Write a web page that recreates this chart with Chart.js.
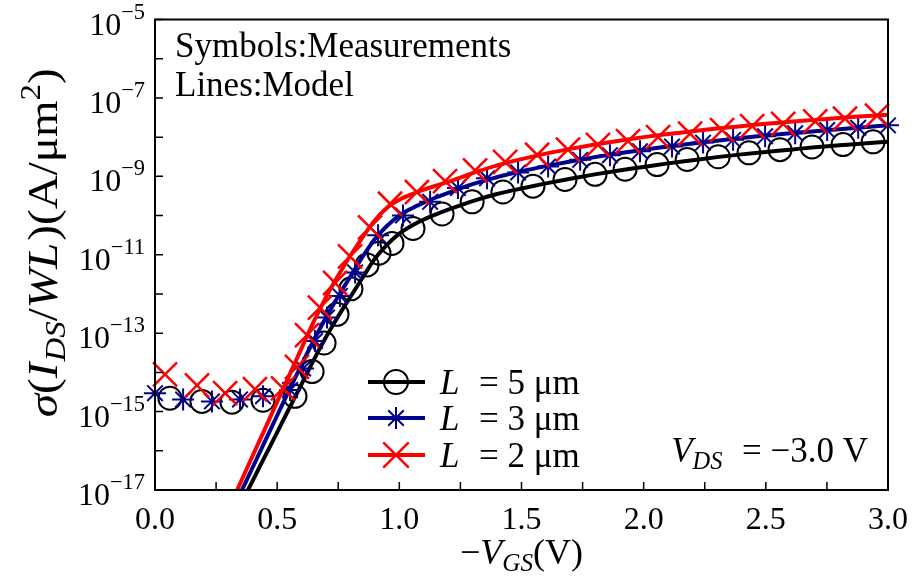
<!DOCTYPE html>
<html>
<head>
<meta charset="utf-8">
<title>sigma(IDS/WL) vs -VGS</title>
<script src="https://cdn.jsdelivr.net/npm/chart.js@4.4.1/dist/chart.umd.min.js"></script>
<style>
  html, body { margin: 0; padding: 0; background: #fff; }
  canvas { display: block; }
</style>
</head>
<body>
<canvas id="chart" width="912" height="580"></canvas>
<script>
// -V_GS (V) and log10 of sigma(I_DS/WL) in A/um^2

// measurements, L = 5 um (circles)
const vMeas5 = [0.061, 0.192, 0.315, 0.442, 0.573, 0.643, 0.692, 0.745, 0.802, 0.868, 0.917, 0.970, 1.056, 1.175, 1.298, 1.424, 1.547, 1.678, 1.801, 1.924, 2.055, 2.178, 2.305, 2.431, 2.558, 2.689, 2.816, 2.939];
const eMeas5 = [-14.66, -14.74, -14.76, -14.71, -14.61, -13.98, -13.25, -12.52, -11.87, -11.26, -10.96, -10.71, -10.33, -9.96, -9.65, -9.40, -9.25, -9.08, -8.95, -8.82, -8.70, -8.57, -8.50, -8.40, -8.32, -8.25, -8.19, -8.12];

// measurements, L = 3 um (stars)
const vMeas3 = [0.0, 0.115, 0.233, 0.348, 0.442, 0.553, 0.606, 0.655, 0.704, 0.757, 0.819, 0.913, 1.015, 1.126, 1.240, 1.359, 1.486, 1.609, 1.740, 1.862, 1.985, 2.116, 2.243, 2.366, 2.497, 2.620, 2.751, 2.878, 3.0];
const eMeas3 = [-14.53, -14.69, -14.74, -14.69, -14.61, -14.45, -13.9, -13.2, -12.6, -12.05, -11.45, -10.5, -10.0, -9.65, -9.3, -9.05, -8.9, -8.75, -8.58, -8.46, -8.36, -8.24, -8.14, -8.07, -7.98, -7.9, -7.82, -7.76, -7.7];

// measurements, L = 2 um (crosses)
const vMeas2 = [0.041, 0.172, 0.287, 0.409, 0.524, 0.581, 0.622, 0.675, 0.737, 0.798, 0.880, 0.962, 1.072, 1.187, 1.310, 1.433, 1.564, 1.690, 1.813, 1.936, 2.059, 2.190, 2.321, 2.444, 2.571, 2.702, 2.824, 2.955];
const eMeas2 = [-14.05, -14.33, -14.53, -14.43, -14.41, -13.86, -13.05, -12.35, -11.72, -11.04, -10.3, -9.7, -9.40, -9.12, -8.85, -8.63, -8.45, -8.32, -8.2, -8.1, -8.0, -7.91, -7.82, -7.72, -7.66, -7.6, -7.53, -7.45];

// model curves
const vModel = [0.30, 0.35, 0.40, 0.45, 0.50, 0.55, 0.60, 0.65, 0.70, 0.75, 0.80, 0.85, 0.90, 0.95, 1.00, 1.05, 1.10, 1.15, 1.20, 1.3, 1.4, 1.5, 1.6, 1.7, 1.8, 1.9, 2.0, 2.1, 2.2, 2.3, 2.4, 2.5, 2.6, 2.7, 2.8, 2.9, 3.0];
const eModel5 = [-17.93, -17.37, -16.76, -16.14, -15.53, -14.91, -14.3, -13.68, -13.1, -12.57, -12.07, -11.58, -11.1, -10.74, -10.46, -10.26, -10.1, -9.97, -9.85, -9.63, -9.45, -9.31, -9.18, -9.06, -8.95, -8.85, -8.76, -8.67, -8.59, -8.51, -8.44, -8.38, -8.32, -8.26, -8.21, -8.16, -8.12];
const eModel3 = [-17.75, -17.08, -16.42, -15.76, -15.1, -14.44, -13.8, -13.18, -12.6, -12.06, -11.55, -11.05, -10.6, -10.26, -10.0, -9.82, -9.67, -9.54, -9.42, -9.2, -9.02, -8.87, -8.74, -8.62, -8.51, -8.41, -8.32, -8.24, -8.16, -8.09, -8.02, -7.96, -7.9, -7.85, -7.8, -7.75, -7.7];
const eModel2 = [-17.5, -16.81, -16.12, -15.44, -14.75, -14.07, -13.38, -12.7, -12.08, -11.53, -11.02, -10.55, -10.12, -9.8, -9.6, -9.46, -9.34, -9.24, -9.14, -8.92, -8.72, -8.56, -8.42, -8.3, -8.19, -8.09, -8.0, -7.92, -7.85, -7.78, -7.72, -7.66, -7.61, -7.56, -7.51, -7.47, -7.43];

// axes
const xTickValues = [0, 0.25, 0.5, 0.75, 1.0, 1.25, 1.5, 1.75, 2.0, 2.25, 2.5, 2.75, 3.0];
const xLabelValues = [0, 0.5, 1.0, 1.5, 2.0, 2.5, 3.0];
const yTickExps = [-17, -16, -15, -14, -13, -12, -11, -10, -9, -8, -7, -6, -5];
const yLabelExps = [-17, -15, -13, -11, -9, -7, -5];

const legendLengths = ['5', '3', '2'];

const BLACK = '#000000';
const NAVY = '#00008f';
const RED = '#ff0000';
const FONT = '"Liberation Serif", "Times New Roman", serif';

function toPoints(xs, es) {
    return xs.map((v, i) => ({ x: v, y: Math.pow(10, es[i]) }));
}

// draws a list of text runs (italic / sub / sup) one after another
function richText(ctx, parts, x, y, size, align, supRaise) {
    let runs = parts.map(p => {
        let s = (p.sub || p.sup) ? size * 0.7 : size;
        let font = (p.it ? 'italic ' : '') + s + 'px ' + FONT;
        ctx.font = font;
        let dy = p.sub ? size * 0.2 : (p.sup ? -size * (supRaise || 0.4) : 0);
        return { t: p.t, font: font, w: ctx.measureText(p.t).width + (p.pad || 0), dy: dy, pre: p.pre || 0 };
    });
    let total = runs.reduce((a, r) => a + r.w + r.pre, 0);
    let cx = x;
    if (align === 'center') cx = x - total / 2;
    if (align === 'right') cx = x - total;
    ctx.textAlign = 'left';
    ctx.textBaseline = 'alphabetic';
    for (let r of runs) {
        cx += r.pre;
        ctx.font = r.font;
        ctx.fillText(r.t, cx, y + r.dy);
        cx += r.w;
    }
}

const decorPlugin = {
    id: 'decor',
    afterDraw(chart) {
        const ctx = chart.ctx;
        const a = chart.chartArea;
        const xs = chart.scales.x;
        const ys = chart.scales.y;
        ctx.save();
        ctx.strokeStyle = BLACK;
        ctx.fillStyle = BLACK;

        // frame
        ctx.lineWidth = 2;
        ctx.strokeRect(a.left, a.top, a.right - a.left, a.bottom - a.top);

        // inner ticks
        ctx.lineWidth = 1.5;
        ctx.beginPath();
        for (let v of xTickValues) {
            let px = xs.getPixelForValue(v);
            ctx.moveTo(px, a.bottom);
            ctx.lineTo(px, a.bottom - 8);
        }
        for (let e of yTickExps) {
            let py = ys.getPixelForValue(Math.pow(10, e));
            ctx.moveTo(a.left, py);
            ctx.lineTo(a.left + 8, py);
        }
        ctx.stroke();

        // tick labels
        for (let v of xLabelValues) {
            ctx.font = '32px ' + FONT;
            ctx.textAlign = 'center';
            ctx.textBaseline = 'alphabetic';
            ctx.fillText(v.toFixed(1), xs.getPixelForValue(v), a.bottom + 39);
        }
        for (let e of yLabelExps) {
            let py = ys.getPixelForValue(Math.pow(10, e));
            richText(ctx, [{ t: '10' }, { t: '\u2212' + (-e), sup: true }], a.left - 10, py + 15, 32, 'right', 0.5);
        }

        // axis titles
        richText(ctx, [{ t: '\u2212' }, { t: 'V', it: true }, { t: 'GS', it: true, sub: true }, { t: '(V)' }],
            (a.left + a.right) / 2, 564, 36, 'center');

        ctx.save();
        ctx.translate(57, (a.top + a.bottom) / 2 - 12);
        ctx.rotate(-Math.PI / 2);
        ctx.scale(1.12, 1);
        richText(ctx, [
            { t: '\u03c3', it: true }, { t: '(' }, { t: 'I', it: true, pad: 1 }, { t: 'DS', it: true, sub: true },
            { t: '/' }, { t: 'W', it: true }, { t: 'L', it: true, pad: 2 }, { t: ')(A/\u03bcm' }, { t: '2', sup: true }, { t: ')' }
        ], 0, 0, 42, 'center');
        ctx.restore();

        // annotations
        ctx.font = '35px ' + FONT;
        ctx.textAlign = 'left';
        ctx.textBaseline = 'alphabetic';
        ctx.fillText('Symbols:Measurements', a.left + 20, 57);
        ctx.fillText('Lines:Model', a.left + 20, 96);

        richText(ctx, [{ t: 'V', it: true }, { t: 'DS', it: true, sub: true }, { t: '\u2002= \u22123.0\u2005V', pre: 2 }],
            a.right - 20, 462, 35, 'right');

        // legend
        const styles = [
            { color: BLACK, style: 'circle', r: 12, bw: 2 },
            { color: NAVY, style: 'star', r: 11, bw: 2 },
            { color: RED, style: 'crossRot', r: 18, bw: 2.5 }
        ];
        const rowY = [382, 418, 455];
        legendLengths.forEach((len, i) => {
            let st = styles[i];
            let y = rowY[i];
            ctx.strokeStyle = st.color;
            ctx.lineWidth = 4;
            ctx.beginPath();
            ctx.moveTo(368, y);
            ctx.lineTo(425, y);
            ctx.stroke();
            ctx.lineWidth = st.bw;
            ctx.fillStyle = 'rgba(0,0,0,0)';
            Chart.helpers.drawPoint(ctx, { pointStyle: st.style, radius: st.r, borderWidth: st.bw, rotation: 0 }, 396, y);
            ctx.fillStyle = BLACK;
            richText(ctx, [{ t: 'L', it: true }, { t: '\u2002= ' + len + '\u2005\u03bcm', pre: 2 }], 440, y + 12, 35, 'left');
        });

        ctx.restore();
    }
};

new Chart(document.getElementById('chart'), {
    type: 'line',
    data: {
        datasets: [
            {
                label: 'L = 5 um (measured)',
                data: toPoints(vMeas5, eMeas5),
                showLine: false,
                pointStyle: 'circle',
                pointRadius: 11.5,
                pointBorderWidth: 2,
                pointBorderColor: BLACK,
                pointBackgroundColor: 'rgba(0,0,0,0)',
                clip: false,
                order: 6
            },
            {
                label: 'L = 5 um (model)',
                data: toPoints(vModel, eModel5),
                borderColor: BLACK,
                borderWidth: 4,
                pointRadius: 0,
                cubicInterpolationMode: 'monotone',
                clip: 0,
                order: 5
            },
            {
                label: 'L = 3 um (measured)',
                data: toPoints(vMeas3, eMeas3),
                showLine: false,
                pointStyle: 'star',
                pointRadius: 11,
                pointBorderWidth: 2,
                pointBorderColor: NAVY,
                pointBackgroundColor: NAVY,
                clip: false,
                order: 4
            },
            {
                label: 'L = 3 um (model)',
                data: toPoints(vModel, eModel3),
                borderColor: NAVY,
                borderWidth: 4,
                pointRadius: 0,
                cubicInterpolationMode: 'monotone',
                clip: 0,
                order: 3
            },
            {
                label: 'L = 2 um (measured)',
                data: toPoints(vMeas2, eMeas2),
                showLine: false,
                pointStyle: 'crossRot',
                pointRadius: 17,
                pointBorderWidth: 2.5,
                pointBorderColor: RED,
                pointBackgroundColor: RED,
                clip: false,
                order: 2
            },
            {
                label: 'L = 2 um (model)',
                data: toPoints(vModel, eModel2),
                borderColor: RED,
                borderWidth: 4,
                pointRadius: 0,
                cubicInterpolationMode: 'monotone',
                clip: 0,
                order: 1
            }
        ]
    },
    options: {
        responsive: false,
        animation: false,
        layout: { padding: { left: 155, right: 24, top: 13, bottom: 90 } },
        scales: {
            x: { type: 'linear', min: 0, max: 3, display: false },
            y: { type: 'logarithmic', min: 1e-17, max: 1e-5, display: false }
        },
        plugins: {
            legend: { display: false },
            tooltip: { enabled: false }
        }
    },
    plugins: [decorPlugin]
});
</script>
</body>
</html>
